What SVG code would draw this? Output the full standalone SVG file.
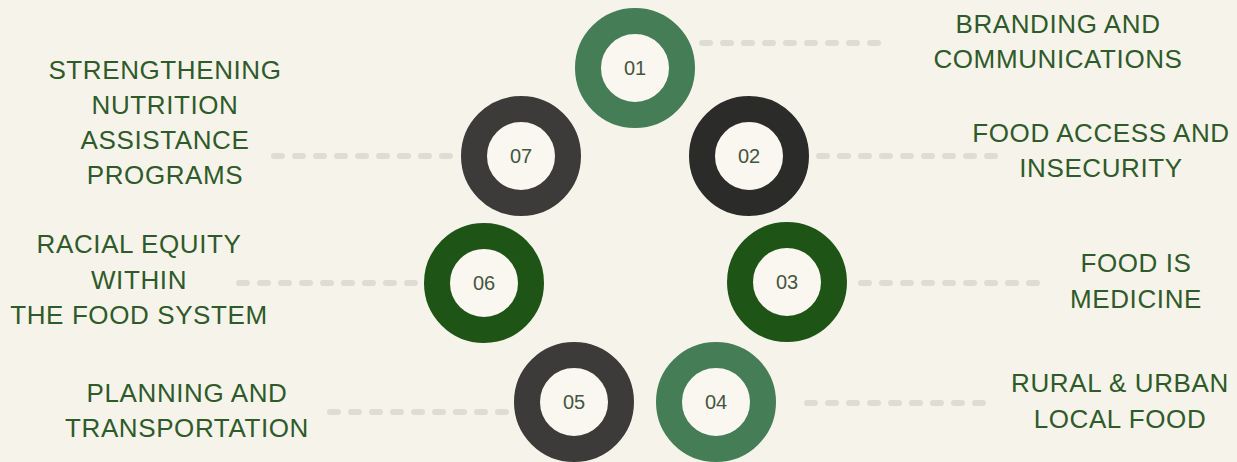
<svg xmlns="http://www.w3.org/2000/svg" width="1237" height="462" viewBox="0 0 1237 462">
<style>
.bg{fill:#f6f4ea}
.ring{fill:#f9f7ef;stroke-width:26}
.num{font-family:"Liberation Sans",Arial,sans-serif;font-size:20px;fill:#45553f;text-anchor:middle;dominant-baseline:central}
.lbl{font-family:"Liberation Sans",Arial,sans-serif;font-size:26px;fill:#2f5a29;text-anchor:middle;letter-spacing:0.6px}
.dash{stroke:#deddd4;stroke-width:6;stroke-linecap:round;stroke-dasharray:8 13;fill:none}
</style>
<rect class="bg" x="0" y="0" width="1237" height="462"/>
<g id="connectors">
<line class="dash" x1="702" y1="43" x2="882" y2="43"/>
<line class="dash" x1="274" y1="156" x2="452" y2="156"/>
<line class="dash" x1="819" y1="156" x2="998" y2="156"/>
<line class="dash" x1="861" y1="283" x2="1040" y2="283"/>
<line class="dash" x1="239" y1="283" x2="418" y2="283"/>
<line class="dash" x1="330" y1="412" x2="506" y2="412"/>
<line class="dash" x1="807" y1="403" x2="985" y2="403"/>
</g>
<g id="n01">
<circle class="ring" cx="635" cy="68" r="47" stroke="#457d57"/>
<text class="num" x="635" y="68">01</text>
<text class="lbl" x="1058" y="33">BRANDING AND</text>
<text class="lbl" x="1058" y="68">COMMUNICATIONS</text>
</g>
<g id="n02">
<circle class="ring" cx="749" cy="156" r="47" stroke="#2b2b2a"/>
<text class="num" x="749" y="156">02</text>
<text class="lbl" x="1101" y="142">FOOD ACCESS AND</text>
<text class="lbl" x="1101" y="177">INSECURITY</text>
</g>
<g id="n03">
<circle class="ring" cx="787" cy="282" r="47" stroke="#1f5417"/>
<text class="num" x="787" y="282">03</text>
<text class="lbl" x="1136" y="272">FOOD IS</text>
<text class="lbl" x="1136" y="308">MEDICINE</text>
</g>
<g id="n04">
<circle class="ring" cx="716" cy="402" r="47" stroke="#457d57"/>
<text class="num" x="716" y="402">04</text>
<text class="lbl" x="1120" y="392">RURAL &amp; URBAN</text>
<text class="lbl" x="1120" y="428">LOCAL FOOD</text>
</g>
<g id="n05">
<circle class="ring" cx="574" cy="402" r="47" stroke="#3c3b3a"/>
<text class="num" x="574" y="402">05</text>
<text class="lbl" x="187" y="402">PLANNING AND</text>
<text class="lbl" x="187" y="437">TRANSPORTATION</text>
</g>
<g id="n06">
<circle class="ring" cx="484" cy="283" r="47" stroke="#1f5417"/>
<text class="num" x="484" y="283">06</text>
<text class="lbl" x="139" y="253">RACIAL EQUITY</text>
<text class="lbl" x="139" y="289">WITHIN</text>
<text class="lbl" x="139" y="324">THE FOOD SYSTEM</text>
</g>
<g id="n07">
<circle class="ring" cx="521" cy="156" r="47" stroke="#3c3b3a"/>
<text class="num" x="521" y="156">07</text>
<text class="lbl" x="165" y="79">STRENGTHENING</text>
<text class="lbl" x="165" y="114">NUTRITION</text>
<text class="lbl" x="165" y="149">ASSISTANCE</text>
<text class="lbl" x="165" y="184">PROGRAMS</text>
</g>
</svg>
